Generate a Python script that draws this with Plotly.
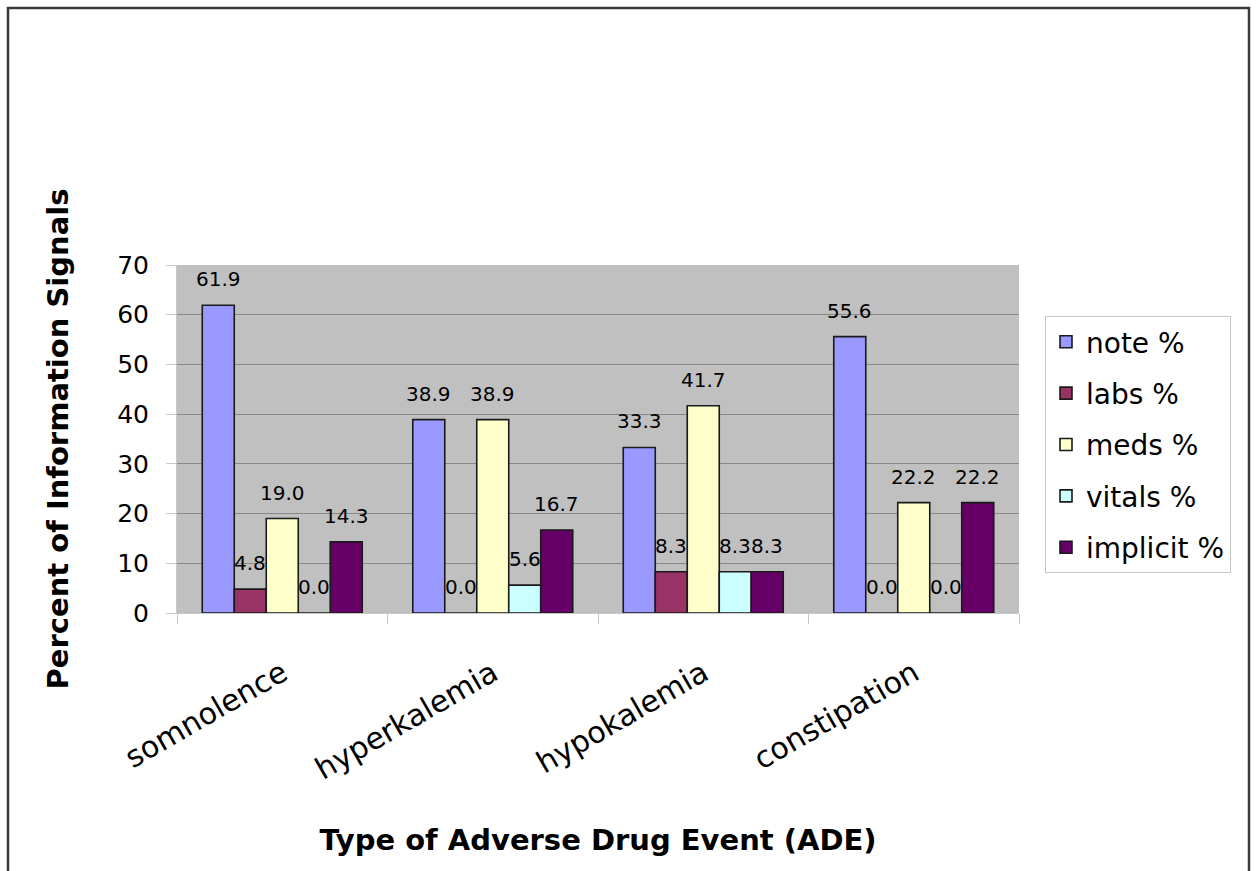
import plotly.graph_objects as go

# Adverse drug event categories and the share of information signals per source
categories = ["somnolence", "hyperkalemia", "hypokalemia", "constipation"]
series_names = ["note %", "labs %", "meds %", "vitals %", "implicit %"]
note = [61.9, 38.9, 33.3, 55.6]
labs = [4.8, 0.0, 8.3, 0.0]
meds = [19.0, 38.9, 41.7, 22.2]
vitals = [0.0, 5.6, 8.3, 0.0]
implicit = [14.3, 16.7, 8.3, 22.2]
y_ticks = [0, 10, 20, 30, 40, 50, 60, 70]

series_values = [note, labs, meds, vitals, implicit]
series_colors = ["#9999FF", "#993366", "#FFFFCC", "#CCFFFF", "#660066"]

FONT = "DejaVu Sans"
BAR_GAP = 0.24
n_series = len(series_values)
bar_w = (1 - BAR_GAP) / n_series

fig = go.Figure()
for k, (name, vals, col) in enumerate(zip(series_names, series_values, series_colors)):
    fig.add_trace(go.Bar(
        name=name,
        x=categories,
        y=vals,
        marker=dict(color=col, line=dict(color="#1a1a1a", width=1.6)),
        legendgroup=name,
    ))
    # value labels above every bar
    for i, v in enumerate(vals):
        fig.add_annotation(
            x=i + (k - (n_series - 1) / 2) * bar_w,
            y=v,
            text=f"{v:.1f}",
            showarrow=False,
            yanchor="middle",
            yshift=26,
            font=dict(family=FONT, size=20, color="#000000"),
        )

# outer frame around the whole chart
plot_l, plot_r, plot_t, plot_b = 177, 1019, 265, 613
W, H = 1256, 871
pw, ph = plot_r - plot_l, plot_b - plot_t


def px_x(p):
    return (p - plot_l) / pw


def px_y(p):
    return (plot_b - p) / ph


fig.add_shape(type="path",
              path=f"M {px_x(8)} {px_y(880)} L {px_x(8)} {px_y(8)} "
                   f"L {px_x(1249)} {px_y(8)} L {px_x(1249)} {px_y(880)}",
              xref="paper", yref="paper",
              line=dict(color="#3a3a3a", width=2.5))

fig.update_layout(
    width=W, height=H,
    margin=dict(l=plot_l, r=W - plot_r, t=plot_t, b=H - plot_b, autoexpand=False),
    paper_bgcolor="#FFFFFF",
    plot_bgcolor="#C0C0C0",
    barmode="group",
    bargap=BAR_GAP,
    bargroupgap=0,
    font=dict(family=FONT, color="#000000"),
    showlegend=True,
    legend=dict(
        x=px_x(1045), y=px_y(316), xanchor="left", yanchor="top",
        bgcolor="#FFFFFF", bordercolor="#C8C8C8", borderwidth=1,
        font=dict(family=FONT, size=28, color="#000000"),
        tracegroupgap=12,
        traceorder="grouped",
    ),
    xaxis=dict(
        type="category",
        tickangle=-30,
        tickson="boundaries",
        ticks="outside", ticklen=10, tickcolor="#C8C8C8", tickwidth=1,
        showline=True, linecolor="#C8C8C8", linewidth=1,
        showgrid=False,
        ticklabelstandoff=30,
        tickfont=dict(family=FONT, size=30, color="#000000"),
        title=dict(text="<b>Type of Adverse Drug Event (ADE)</b>",
                   font=dict(family=FONT, size=29, color="#000000"),
                   standoff=44),
        automargin=False,
    ),
    yaxis=dict(
        range=[0, 70],
        tickvals=y_ticks,
        ticks="outside", ticklen=10, tickcolor="#C8C8C8", tickwidth=1,
        showline=True, linecolor="#C8C8C8", linewidth=1,
        showgrid=True, gridcolor="#888888", gridwidth=1,
        zeroline=False,
        ticklabelstandoff=12,
        tickfont=dict(family=FONT, size=25, color="#000000"),
        title=dict(text="<b>Percent of Information Signals</b>",
                   font=dict(family=FONT, size=29, color="#000000"),
                   standoff=40),
        automargin=False,
    ),
)

fig.write_html("out.html")
